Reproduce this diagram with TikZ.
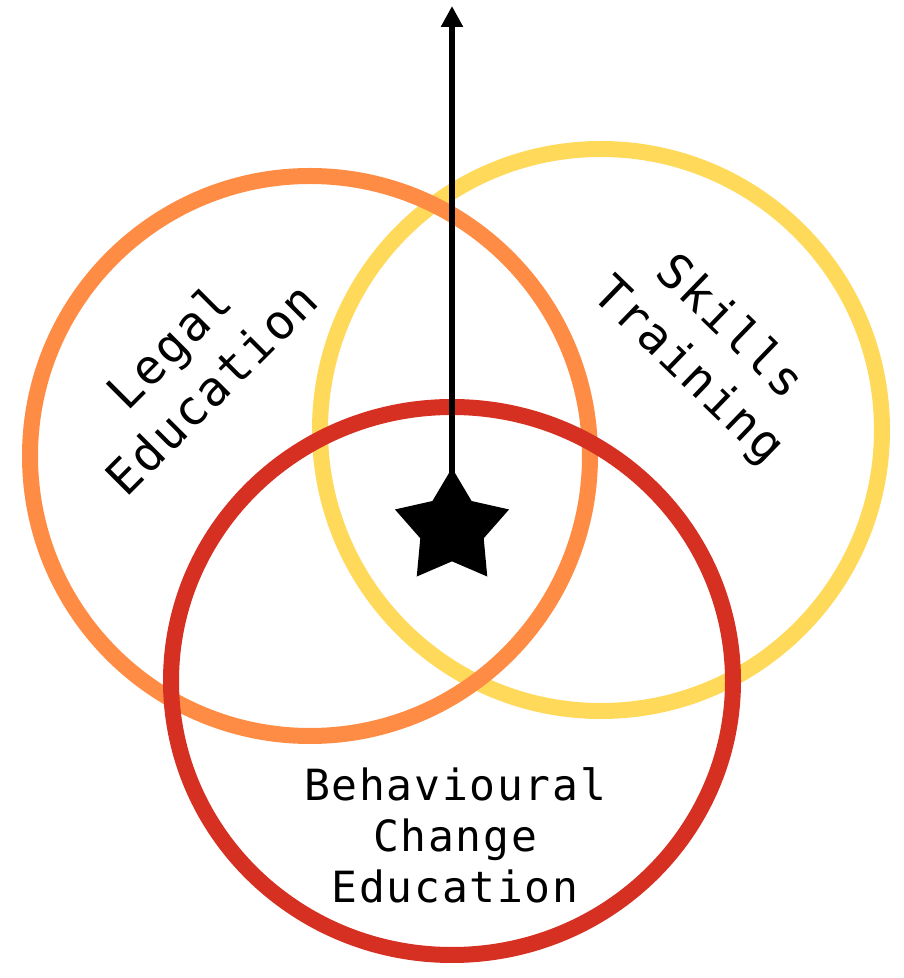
\documentclass[tikz,border=0pt]{standalone}
\usepackage{fontspec}
\usepackage{tikz}
\usetikzlibrary{shapes.geometric,arrows.meta}
\newfontfamily\vennfont[LetterSpace=4]{DejaVu Sans Mono}

\begin{document}
\begin{tikzpicture}[x=1pt,y=1pt]
\definecolor{ringLegal}{HTML}{FF8C45}
\definecolor{ringSkills}{HTML}{FFD95A}
\definecolor{ringChange}{HTML}{D63022}
\useasboundingbox (0,0) rectangle (904,978);
\draw[ringSkills,line width=16pt] (601,548) circle (281);
\draw[ringLegal,line width=16pt] (310,522) circle (280);
\draw[ringChange,line width=16pt] (452,297) ellipse (281 and 274);
\node[rotate=45,align=center,font=\vennfont\fontsize{48}{60}\selectfont] (legal) at (190,611) {Legal\\Education};
\node[rotate=-44,align=center,font=\vennfont\fontsize{48}{60}\selectfont] (skills) at (708,628) {Skills\\Training};
\node[align=center,font=\vennfont\fontsize{43}{51}\selectfont] (change) at (455,143) {Behavioural\\Change\\Education};
\node[star,star points=5,star point ratio=1.8,fill=black,inner sep=0pt,minimum size=120pt] (goal) at (452,450) {};
\coordinate (aim) at (452,972);
\draw[line width=6.5pt,-{Triangle[width=21pt,length=21pt]}] (goal.center) -- (aim);
\end{tikzpicture}
\end{document}
